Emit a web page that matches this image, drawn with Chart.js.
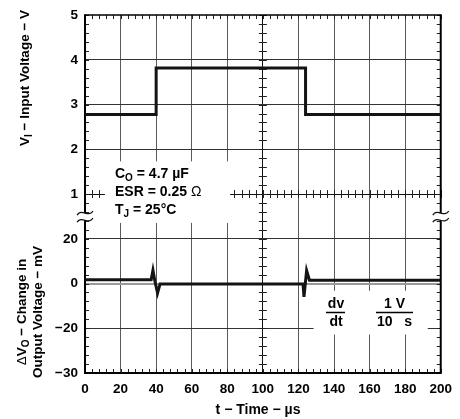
<!DOCTYPE html>
<html>
<head>
<meta charset="utf-8">
<script src="https://cdn.jsdelivr.net/npm/chart.js@4/dist/chart.umd.min.js"></script>
<style>html,body{margin:0;padding:0;background:#fff;}</style>
</head>
<body>
<canvas id="c" width="460" height="419"></canvas>
<script>
// ---- data ----
const timeIn = [0, 40, 40, 124, 124, 200];
const inputVoltage = [2.78, 2.78, 3.82, 3.82, 2.78, 2.78];
const timeOut = [0, 37.2, 38.2, 39.3, 40.8, 42.2, 122.6, 123.1, 124.6, 126.2, 200];
const deltaVo = [1.7, 1.7, 6.0, 1.0, -4.3, -0.2, -0.2, -6.0, 5.8, 1.5, 1.5];
const xTickValues = [0, 20, 40, 60, 80, 100, 120, 140, 160, 180, 200];
const vinTickValues = [1, 2, 3, 4, 5];
const dvoTickValues = [-40, -20, 0, 20];
const dvoTickLabels = ['\u221230', '\u221220', '0', '20'];

const FONT = '"Liberation Sans", Arial, Helvetica, sans-serif';
const fnt = (s, b = true) => (b ? 'bold ' : '') + s + 'px ' + FONT;
const tickFont = { family: FONT, size: 13.5, weight: 'bold' };

function drawRich(ctx, parts, x, y, align) {
  let w = 0;
  for (const p of parts) { ctx.font = fnt(p.s, p.b !== false); p.w = ctx.measureText(p.t).width; w += p.w; }
  let cx = align === 'center' ? x - w / 2 : x;
  for (const p of parts) { ctx.font = fnt(p.s, p.b !== false); ctx.fillText(p.t, cx, y + (p.dy || 0)); cx += p.w; }
}

const deco = {
  id: 'deco',
  beforeDraw(chart) {
    const ctx = chart.ctx;
    ctx.save(); ctx.fillStyle = '#fff'; ctx.fillRect(0, 0, chart.width, chart.height); ctx.restore();
  },
  beforeDatasetsDraw(chart) {
    const { ctx, chartArea: a, scales } = chart;
    const x = scales.x, yIn = scales.yIn, yOut = scales.yOut;
    ctx.save();
    // minor ticks
    ctx.strokeStyle = '#222'; ctx.lineWidth = 1;
    ctx.beginPath();
    const seg = (x1, y1, x2, y2) => { ctx.moveTo(x1, y1); ctx.lineTo(x2, y2); };
    const yc = yIn.getPixelForValue(1);
    const xc = x.getPixelForValue(100);
    for (let i = 0; i <= 50; i++) {
      const px = Math.round(x.getPixelForValue(i * 4)) + 0.5;
      seg(px, a.top, px, a.top + 4);
      seg(px, a.bottom, px, a.bottom - 4);
      seg(px, yc - 4, px, yc + 4);
    }
    const vt = [];
    for (let i = 0; i <= 20; i++) vt.push(yIn.getPixelForValue(1 + i * 0.2));
    for (let i = 0; i <= 20; i++) vt.push(yOut.getPixelForValue(-40 + i * 4));
    for (const py0 of vt) {
      const py = Math.round(py0) + 0.5;
      seg(a.left, py, a.left + 4, py);
      seg(a.right, py, a.right - 4, py);
      seg(xc - 4, py, xc + 4, py);
    }
    ctx.stroke();
    // frame
    ctx.strokeStyle = '#000';
    ctx.lineWidth = 1.5;
    ctx.beginPath(); seg(a.left, a.top, a.right, a.top); ctx.stroke();
    ctx.lineWidth = 2;
    ctx.beginPath();
    seg(a.left, a.top - 0.75, a.left, a.bottom + 1);
    seg(a.left - 1, a.bottom, a.right + 1, a.bottom);
    seg(a.right, a.top - 0.75, a.right, a.bottom + 1);
    ctx.stroke();
    // axis breaks
    const b1 = yOut.getPixelForValue(31.5), b2 = yOut.getPixelForValue(28.3);
    ctx.fillStyle = '#fff';
    for (const bx of [a.left, a.right]) {
      ctx.fillRect(bx - 3, b1, 6, b2 - b1);
      ctx.strokeStyle = '#111'; ctx.lineWidth = 1.2;
      for (const by of [b1, b2]) {
        ctx.beginPath();
        ctx.moveTo(bx - 8, by + 2);
        ctx.bezierCurveTo(bx - 3, by - 5, bx + 3, by + 5, bx + 8, by - 2);
        ctx.stroke();
      }
    }
    // white annotation boxes
    ctx.fillStyle = '#fff';
    const bxA = x.getPixelForValue(11.2), bxB = x.getPixelForValue(81.6);
    const byA = yIn.getPixelForValue(1.73), byB = yOut.getPixelForValue(27.1);
    ctx.fillRect(bxA, byA, bxB - bxA, byB - byA);
    const cxA = x.getPixelForValue(128.5), cxB = x.getPixelForValue(192.7);
    const cyA = yOut.getPixelForValue(-3.2), cyB = yOut.getPixelForValue(-22.8);
    ctx.fillRect(cxA, cyA, cxB - cxA, cyB - cyA);

    // texts
    ctx.fillStyle = '#000'; ctx.textBaseline = 'alphabetic'; ctx.textAlign = 'left';
    drawRich(ctx, [{ t: 'C', s: 14 }, { t: 'O', s: 10, dy: 3 }, { t: ' = 4.7 \u00b5F', s: 14 }], 115, 178, 'left');
    drawRich(ctx, [{ t: 'ESR = 0.25 ', s: 14 }, { t: '\u03a9', s: 14, b: false }], 115, 196, 'left');
    drawRich(ctx, [{ t: 'T', s: 14 }, { t: 'J', s: 10, dy: 3 }, { t: ' = 25\u00b0C', s: 14 }], 115, 214, 'left');

    ctx.textAlign = 'center';
    ctx.font = fnt(14);
    ctx.fillText('dv', 336, 308);
    ctx.fillText('dt', 336, 326);
    ctx.fillText('1 V', 394.5, 308);
    ctx.fillText('10   s', 394.5, 326);
    ctx.lineWidth = 1.5; ctx.strokeStyle = '#000';
    ctx.beginPath(); seg(326, 312.5, 345, 312.5); seg(376, 312.5, 413, 312.5); ctx.stroke();
    ctx.textAlign = 'left';

    // axis titles
    ctx.save();
    ctx.translate(29, 78); ctx.rotate(-Math.PI / 2);
    drawRich(ctx, [{ t: 'V', s: 13.5 }, { t: 'I', s: 10, dy: 3 }, { t: ' \u2212 Input Voltage \u2212 V', s: 13.5 }], 0, 0, 'center');
    ctx.restore();
    ctx.save();
    ctx.translate(26, 312); ctx.rotate(-Math.PI / 2);
    drawRich(ctx, [{ t: '\u0394', s: 13.5, b: false }, { t: 'V', s: 13.5 }, { t: 'O', s: 10, dy: 3 }, { t: ' \u2212 Change in', s: 13.5 }], 0, 0, 'center');
    ctx.restore();
    ctx.save();
    ctx.translate(42, 312); ctx.rotate(-Math.PI / 2);
    drawRich(ctx, [{ t: 'Output Voltage \u2212 mV', s: 13.5 }], 0, 0, 'center');
    ctx.restore();
    ctx.font = fnt(14); ctx.textAlign = 'center';
    ctx.fillText('t \u2212 Time \u2212 \u00b5s', 258, 414);
    ctx.restore();
  }
};

const gridCol = (special) => (ctx) => special(ctx.tick ? ctx.tick.value : null);

new Chart(document.getElementById('c'), {
  type: 'line',
  data: {
    datasets: [
      {
        label: 'Input Voltage',
        data: timeIn.map((t, i) => ({ x: t, y: inputVoltage[i] })),
        xAxisID: 'x', yAxisID: 'yIn',
        borderColor: '#141414', borderWidth: 3, pointRadius: 0, tension: 0, fill: false
      },
      {
        label: 'Change in Output Voltage',
        data: timeOut.map((t, i) => ({ x: t, y: deltaVo[i] })),
        xAxisID: 'x', yAxisID: 'yOut',
        borderColor: '#141414', borderWidth: 3, pointRadius: 0, tension: 0, fill: false
      }
    ]
  },
  options: {
    responsive: false,
    animation: false,
    layout: { padding: { left: 0, top: 14, right: 17, bottom: 0 } },
    plugins: { legend: { display: false }, tooltip: { enabled: false } },
    scales: {
      x: {
        type: 'linear', position: 'bottom', min: 0, max: 200,
        afterBuildTicks: (s) => { s.ticks = xTickValues.map(v => ({ value: v })); },
        afterFit: (s) => { s.height = 46; },
        ticks: { font: tickFont, color: '#000', padding: 8, maxRotation: 0, autoSkip: false },
        grid: {
          drawTicks: false, lineWidth: 1,
          color: gridCol(v => (v === 0 || v === 200) ? 'rgba(0,0,0,0)' : (v === 100 ? '#111' : '#5a5a5a'))
        },
        border: { display: false }
      },
      yIn: {
        type: 'linear', position: 'left', stack: 'v', stackWeight: 1, weight: 2,
        min: 1, max: 5,
        afterBuildTicks: (s) => { s.ticks = vinTickValues.map(v => ({ value: v })); },
        afterFit: (s) => { s.width = 85; },
        ticks: { font: tickFont, color: '#000', padding: 7 },
        grid: {
          drawTicks: false, lineWidth: 1,
          color: gridCol(v => v === 5 ? 'rgba(0,0,0,0)' : (v === 1 ? '#111' : '#333'))
        },
        border: { display: false }
      },
      yOut: {
        type: 'linear', position: 'left', stack: 'v', stackWeight: 1, weight: 1,
        min: -40, max: 40,
        afterBuildTicks: (s) => { s.ticks = dvoTickValues.map(v => ({ value: v })); },
        afterFit: (s) => { s.width = 85; },
        ticks: {
          font: tickFont, color: '#000', padding: 7,
          callback: (v) => dvoTickLabels[dvoTickValues.indexOf(v)]
        },
        grid: {
          drawTicks: false,
          lineWidth: gridCol(v => v === 0 ? 2 : 1),
          color: gridCol(v => v === -40 ? 'rgba(0,0,0,0)' : (v === 0 ? '#9a9a9a' : '#333'))
        },
        border: { display: false }
      }
    }
  },
  plugins: [deco]
});
</script>
</body>
</html>
